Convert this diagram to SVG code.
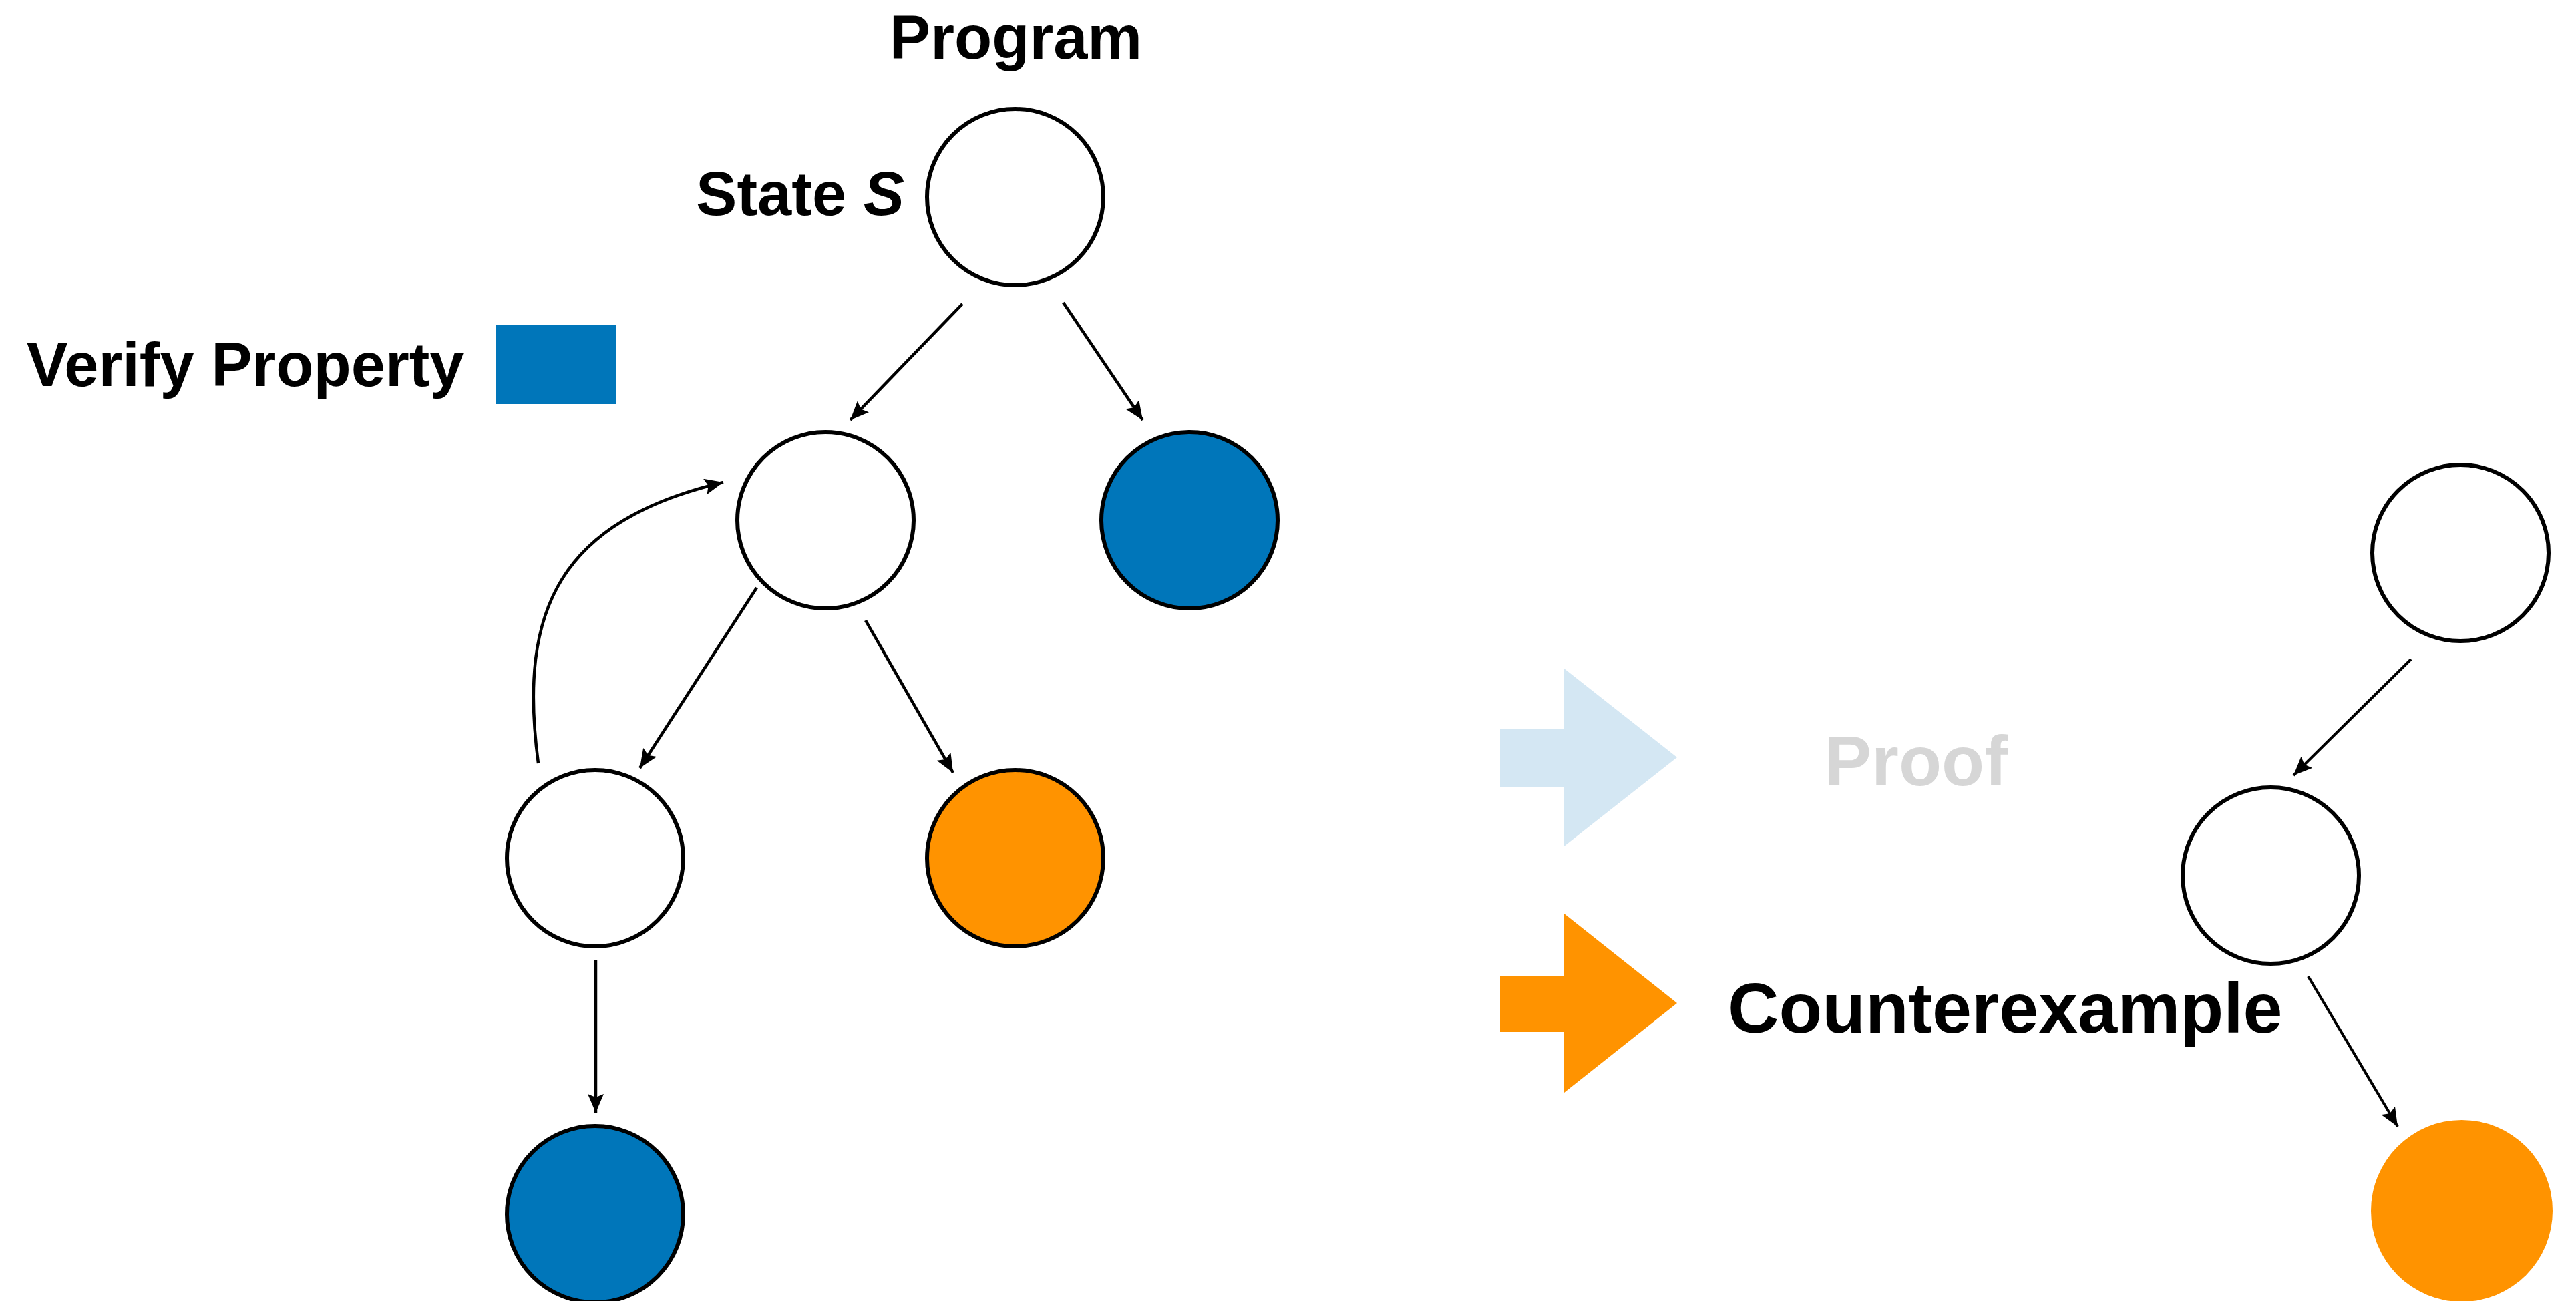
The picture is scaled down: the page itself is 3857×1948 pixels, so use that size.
<svg xmlns="http://www.w3.org/2000/svg" width="3857" height="1948" viewBox="0 0 3857 1948">
<style>
.lbl{font-family:"Liberation Sans",Arial,sans-serif;font-weight:bold;fill:#000}
.node{stroke:#000;stroke-width:6}
.w{fill:#fff}
.b{fill:#0076BA}
.o{fill:#FF9300}
.edge{fill:none;stroke:#000;stroke-width:4.5;marker-end:url(#ah)}
.edge2{fill:none;stroke:#000;stroke-width:4;marker-end:url(#ah)}
</style>
<defs>
<marker id="ah" markerUnits="userSpaceOnUse" markerWidth="30" markerHeight="24" refX="28" refY="12" orient="auto">
<path d="M0,0 L28,12 L0,24 L5,12 z" fill="#000"/>
</marker>
</defs>
<rect width="3857" height="1948" fill="#fff"/>
<text class="lbl" x="1521" y="88" font-size="92" text-anchor="middle">Program</text>
<text class="lbl" x="1354" y="322" font-size="92" text-anchor="end">State <tspan font-style="italic">S</tspan></text>
<text class="lbl" x="40" y="578" font-size="92">Verify Property</text>
<rect id="legend" x="742" y="487" width="180" height="118" fill="#0076BA"/>
<g id="connectors">
<path class="edge" d="M1441,455 L1273,629"/>
<path class="edge" d="M1592,453 L1711,629"/>
<path class="edge" d="M1133,880 L958,1150"/>
<path class="edge" d="M1296,929 L1427,1157"/>
<path class="edge" d="M806,1143 C775,910 840,780 1083,722"/>
<path class="edge" d="M892,1438 L892,1666"/>
<path class="edge2" d="M3610,987 L3434,1161"/>
<path class="edge2" d="M3456,1462 L3590,1687"/>
</g>
<g id="n-top"><circle class="node w" cx="1520" cy="295" r="132"/></g>
<g id="n-midleft"><circle class="node w" cx="1236" cy="779" r="132"/></g>
<g id="n-midright"><circle class="node b" cx="1781" cy="779" r="132"/></g>
<g id="n-lowleft"><circle class="node w" cx="891" cy="1285" r="132"/></g>
<g id="n-lowright"><circle class="node o" cx="1520" cy="1285" r="132"/></g>
<g id="n-bottom"><circle class="node b" cx="891" cy="1818" r="132"/></g>
<g id="r-top"><circle class="node w" cx="3684" cy="828" r="132" stroke-width="5"/></g>
<g id="r-mid"><circle class="node w" cx="3400" cy="1311" r="132" stroke-width="5"/></g>
<g id="r-bottom"><circle cx="3686" cy="1813" r="136" fill="#FF9300"/></g>
<g id="proof-arrow"><polygon points="2246,1092 2342,1092 2342,1001 2511,1134 2342,1267 2342,1178 2246,1178" fill="#D4E7F3"/></g>
<g id="cex-arrow"><polygon points="2246,1461 2342,1461 2342,1368 2511,1502 2342,1636 2342,1545 2246,1545" fill="#FF9300"/></g>
<text class="lbl" x="2732" y="1176" font-size="105" style="fill:#D6D6D6">Proof</text>
<text class="lbl" x="2587" y="1546" font-size="106">Counterexample</text>
</svg>
